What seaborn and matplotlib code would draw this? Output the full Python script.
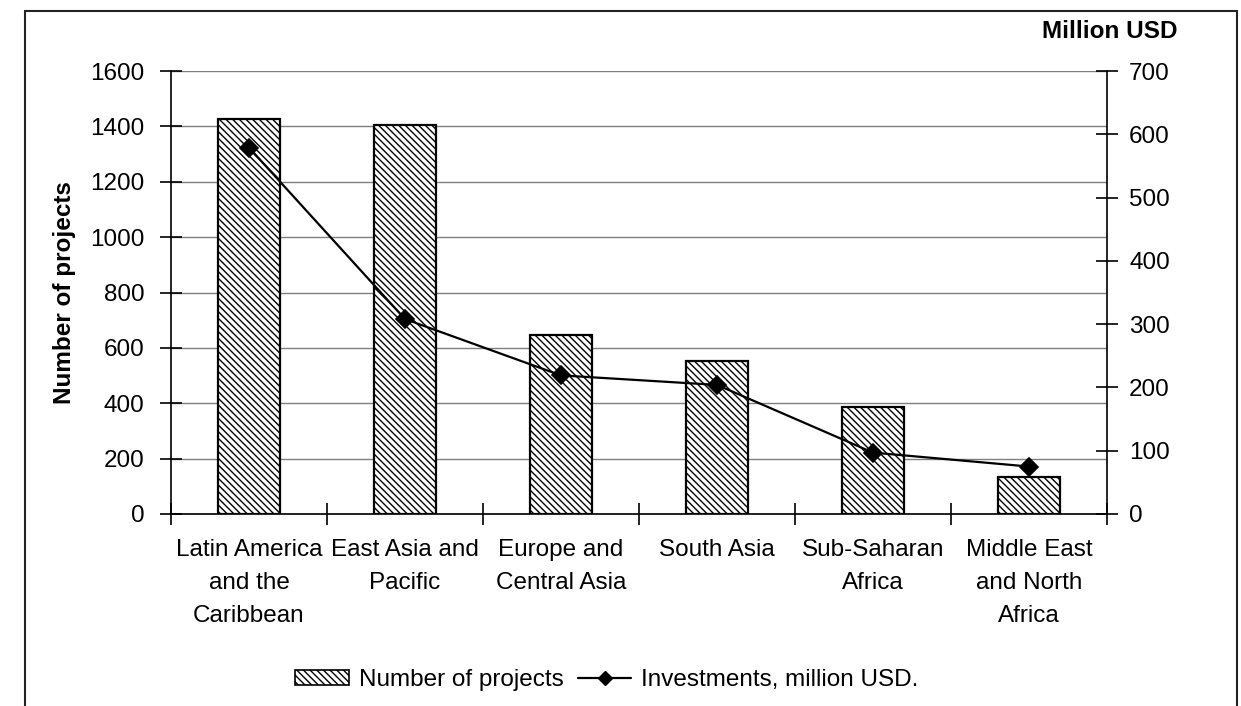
import numpy as np
import matplotlib
matplotlib.use("Agg")
import matplotlib.pyplot as plt
from matplotlib.patches import Rectangle
from matplotlib.lines import Line2D
from matplotlib.patches import Patch
import seaborn as sns

regions = ["Latin America\nand the\nCaribbean", "East Asia and\nPacific",
           "Europe and\nCentral Asia", "South Asia", "Sub-Saharan\nAfrica",
           "Middle East\nand North\nAfrica"]
projects = [1425, 1405, 648, 553, 387, 135]
investments = [579, 308, 219, 204, 97, 75]
left_ticks = [0, 200, 400, 600, 800, 1000, 1200, 1400, 1600]
right_ticks = [0, 100, 200, 300, 400, 500, 600, 700]

sns.set_theme(style="white")
plt.rcParams["font.family"] = ["Liberation Sans", "DejaVu Sans"]
plt.rcParams["hatch.linewidth"] = 1.0
for key in ["text.color", "axes.labelcolor", "xtick.color", "ytick.color"]:
    plt.rcParams[key] = "black"
FS = 17.5
HATCH = "\\\\\\\\\\"

fig = plt.figure(figsize=(12.41, 7.06), dpi=100)
ax = fig.add_axes([171 / 1241, 1 - 514 / 706, (1107 - 171) / 1241, (514 - 71) / 706])

sns.barplot(x=regions, y=projects, ax=ax, color="white", saturation=1,
            edgecolor="black", linewidth=1.6, hatch=HATCH, width=0.4)

ax.set_xlim(-0.5, len(regions) - 0.5)
ax.set_ylim(left_ticks[0], left_ticks[-1])
ax.set_yticks(left_ticks)
ax.yaxis.grid(True, color="#7f7f7f", linewidth=1.0)
ax.set_axisbelow(True)
for s in ["top", "right"]:
    ax.spines[s].set_visible(False)
for s in ["left", "bottom"]:
    ax.spines[s].set_color("black")
    ax.spines[s].set_linewidth(1.2)

ax.tick_params(axis="y", direction="inout", length=16, width=1.2, color="black",
               labelcolor="black", pad=11, labelsize=FS, left=True)
ax.set_xticks(np.arange(len(regions)))
ax.set_xticklabels(regions, fontsize=FS, linespacing=1.65, color="black")
ax.tick_params(axis="x", length=0, pad=18)
ax.set_xticks(np.arange(-0.5, len(regions)), minor=True)
ax.tick_params(axis="x", which="minor", direction="inout", length=16, width=1.2,
               color="black", bottom=True)
ax.set_xlabel("")
ax.set_ylabel("Number of projects", fontsize=FS, fontweight="bold", color="black")
ax.yaxis.set_label_coords(-0.1015, 0.5)

ax2 = ax.twinx()
sns.pointplot(x=regions, y=investments, ax=ax2, color="black", markers="D",
              markersize=9, linewidth=1.6)
ax2.set_xlim(-0.5, len(regions) - 0.5)
ax2.set_ylim(right_ticks[0], right_ticks[-1])
ax2.set_yticks(right_ticks)
ax2.set_ylabel("")
for s in ["top", "left", "bottom"]:
    ax2.spines[s].set_visible(False)
ax2.spines["right"].set_color("black")
ax2.spines["right"].set_linewidth(1.2)
ax2.tick_params(axis="y", direction="inout", length=16, width=1.2, color="black",
                labelcolor="black", pad=8, labelsize=FS, right=True)
ax2.grid(False)

fig.text(1178 / 1241, 1 - 32 / 706, "Million USD", ha="right", va="center",
         fontsize=FS, fontweight="bold", color="black")

handles = [
    Patch(facecolor="white", edgecolor="black", hatch=HATCH, linewidth=1.2),
    Line2D([0], [0], color="black", linewidth=1.6, marker="D", markersize=7),
]
fig.legend(handles, ["Number of projects", "Investments, million USD."],
           loc="center", bbox_to_anchor=(607 / 1241, 1 - 680 / 706), ncol=2,
           frameon=False, fontsize=FS, handlelength=2.2, handleheight=0.6,
           handletextpad=0.4, columnspacing=0.6, labelcolor="black")

fig.patches.append(Rectangle((25 / 1241, -0.02), (1237 - 25) / 1241, 1.02 - 11 / 706,
                             transform=fig.transFigure, fill=False,
                             edgecolor="#222222", linewidth=1.5))

fig.savefig("out.png", dpi=100, facecolor="white")
